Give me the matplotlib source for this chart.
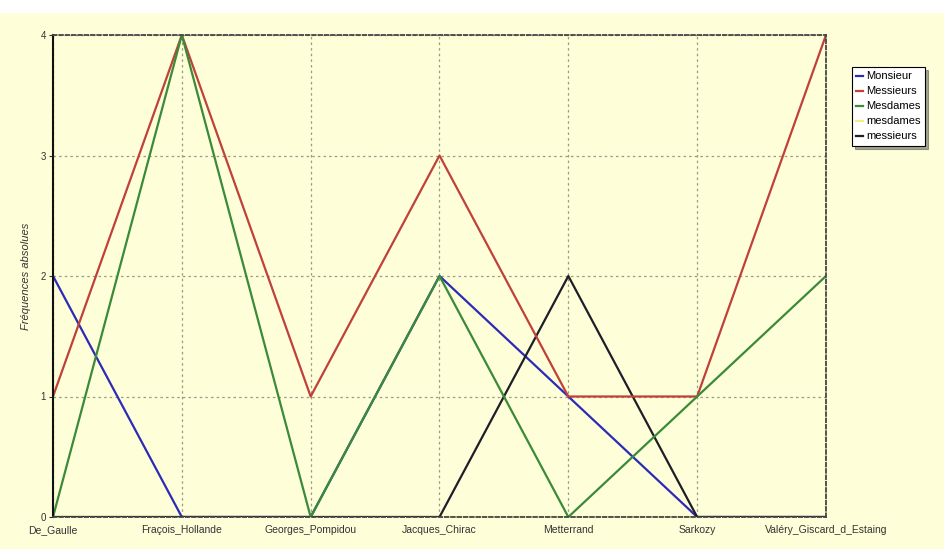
import matplotlib
matplotlib.use("Agg")
import matplotlib.pyplot as plt
from matplotlib.patches import Rectangle

categories = ["De_Gaulle", "Fraçois_Hollande", "Georges_Pompidou", "Jacques_Chirac",
              "Metterrand", "Sarkozy", "Valéry_Giscard_d_Estaing"]
series_names = ["Monsieur", "Messieurs", "Mesdames", "mesdames", "messieurs"]
monsieur = [2, 0, 0, 2, 1, 0, 0]
messieurs_cap = [1, 4, 1, 3, 1, 1, 4]
mesdames_cap = [0, 4, 0, 2, 0, 1, 2]
mesdames = [0, 0, 0, 0, 0, 0, 0]
messieurs = [0, 0, 0, 0, 2, 0, 0]
y_ticks = [0, 1, 2, 3, 4]

colors = ["#2b2bb8", "#c0403a", "#3a8a3a", "#f0f080", "#1e1e2a"]
all_series = [monsieur, messieurs_cap, mesdames_cap, mesdames, messieurs]

plt.rcParams['font.family'] = ['Liberation Sans', 'DejaVu Sans']
bg = "#fefed8"
fig = plt.figure(figsize=(9.45, 5.49), dpi=100, facecolor=bg)
fig.patches.append(Rectangle((0, 1 - 13 / 549), 1, 13 / 549, transform=fig.transFigure,
                             facecolor="white", edgecolor="none", zorder=0))
ax = fig.add_axes([53 / 945, 1 - 517 / 549, (826 - 53) / 945, (517 - 35) / 549])
ax.set_facecolor(bg)

x = list(range(len(categories)))
order = [3, 4, 0, 1, 2]
z = {3: 2, 0: 3, 4: 4, 2: 5, 1: 4.5}
for i in order:
    ax.plot(x, all_series[i], color=colors[i], lw=1.6, label=series_names[i], zorder=z[i])

ax.set_xlim(0, len(categories) - 1)
ax.set_ylim(0, 4)
ax.set_xticks(x)
ax.set_xticklabels(categories, fontsize=7.5, color="#333333")
ax.set_yticks(y_ticks)
ax.set_yticklabels([str(v) for v in y_ticks], fontsize=7, color="#333333")
ax.tick_params(axis='x', length=0, pad=5.5)
ax.tick_params(axis='y', length=3, pad=2, color="#333333")
ax.grid(True, linestyle=(0, (2, 2.5)), color="#9a9a8a", lw=0.9)
ax.set_axisbelow(True)
for s in ["top", "right", "bottom"]:
    ax.spines[s].set_linestyle((0, (2, 1.5)))
    ax.spines[s].set_color("#444444")
    ax.spines[s].set_linewidth(1.3)
    ax.spines[s].set_zorder(10)
ax.spines["left"].set_color("#111111")
ax.spines["left"].set_linewidth(1.5)
ax.spines["left"].set_zorder(10)
ax.set_ylabel("Fréquences absolues", fontsize=8, style="italic", color="#333333", labelpad=-1)
ax.yaxis.set_label_coords(-22 / 773, 0.5)

handles, labels = ax.get_legend_handles_labels()
hmap = dict(zip(labels, handles))
leg = ax.legend([hmap[n] for n in series_names], series_names,
                loc="upper left", bbox_to_anchor=(852 / 945, 1 - 67 / 549),
                bbox_transform=fig.transFigure, fontsize=8, frameon=True, fancybox=False,
                shadow=True, handlelength=0.6, handletextpad=0.25, borderpad=0.4,
                labelspacing=0.45, borderaxespad=0)
leg.get_frame().set_edgecolor("black")
leg.get_frame().set_linewidth(0.8)
leg.get_frame().set_facecolor("white")

fig.savefig("out.png", dpi=100, facecolor=bg)
